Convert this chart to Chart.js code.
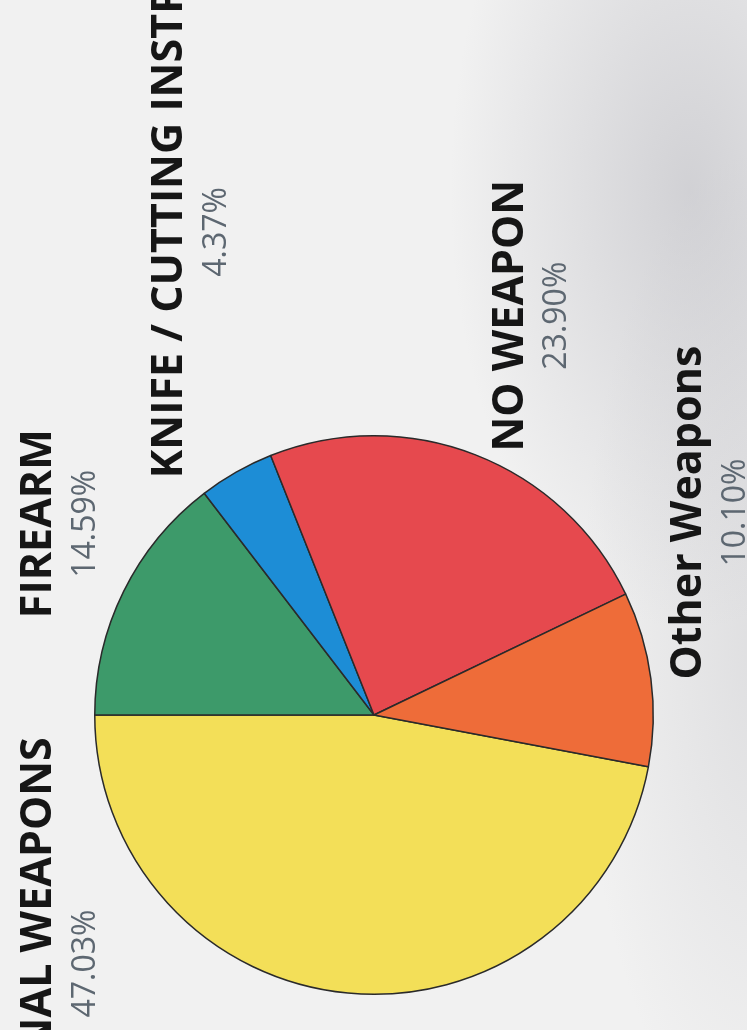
<!DOCTYPE html>
<html>
<head>
<meta charset="utf-8">
<script src="https://cdn.jsdelivr.net/npm/chart.js@4.4.1/dist/chart.umd.min.js"></script>
<style>
  html, body {
    margin: 0;
    padding: 0;
    width: 747px;
    height: 1030px;
    overflow: hidden;
  }
  body {
    background:
      radial-gradient(ellipse 240px 440px at 690px 190px, rgba(170, 170, 178, 0.45), rgba(170, 170, 178, 0) 100%),
      radial-gradient(ellipse 180px 500px at 760px 650px, rgba(180, 180, 186, 0.3), rgba(180, 180, 186, 0) 100%),
      #f1f1f1;
  }
  #wrap {
    position: absolute;
    left: 0;
    top: 0;
    width: 747px;
    height: 1030px;
  }
</style>
</head>
<body>
<div id="wrap"><canvas id="weapons-pie"></canvas></div>
<script>
const categories = ["PERSONAL WEAPONS", "FIREARM", "KNIFE / CUTTING INSTR", "NO WEAPON", "Other Weapons"];
const shares = [47.03, 14.59, 4.37, 23.90, 10.10];
const sliceColors = ["#f3df58", "#3d9a6a", "#1d8dd6", "#e6494e", "#ee6c39"];

// where each label sits, relative to the pie centre, in units of the radius
const labelOffsets = [
  [-1.157, 0.89],
  [-1.157, -0.685],
  [-0.686, -1.73],
  [0.532, -1.43],
  [1.171, -0.725],
];

const sideLabels = {
  id: "sideLabels",
  afterDatasetsDraw(chart) {
    const arcs = chart.getDatasetMeta(0).data;
    if (!arcs.length) return;
    const cx = arcs[0].x;
    const cy = arcs[0].y;
    const r = arcs[0].outerRadius;
    const ctx = chart.ctx;
    categories.forEach((name, i) => {
      const x = cx + labelOffsets[i][0] * r;
      const y = cy + labelOffsets[i][1] * r;
      ctx.save();
      ctx.translate(x, y);
      ctx.rotate(-Math.PI / 2);
      ctx.textAlign = "center";
      ctx.textBaseline = "alphabetic";
      ctx.fillStyle = "#161616";
      ctx.font = "bold 43px 'Open Sans'";
      ctx.fillText(name, 0, 0);
      ctx.fillStyle = "#5d6771";
      ctx.font = "32px 'Open Sans'";
      ctx.fillText(shares[i].toFixed(2) + "%", 0, 0.157 * r);
      ctx.restore();
    });
  },
};

const pie = new Chart(document.getElementById("weapons-pie"), {
  type: "pie",
  data: {
    labels: categories,
    datasets: [
      {
        data: shares,
        backgroundColor: sliceColors,
        borderColor: "#2a2a2a",
        borderWidth: 1.5,
      },
    ],
  },
  options: {
    responsive: true,
    maintainAspectRatio: false,
    animation: false,
    rotation: 100.7,
    layout: {
      padding: { left: 94, right: 93, top: 435, bottom: 35 },
    },
    plugins: {
      legend: { display: false },
      tooltip: { enabled: false },
    },
  },
  plugins: [sideLabels],
});
</script>
</body>
</html>
